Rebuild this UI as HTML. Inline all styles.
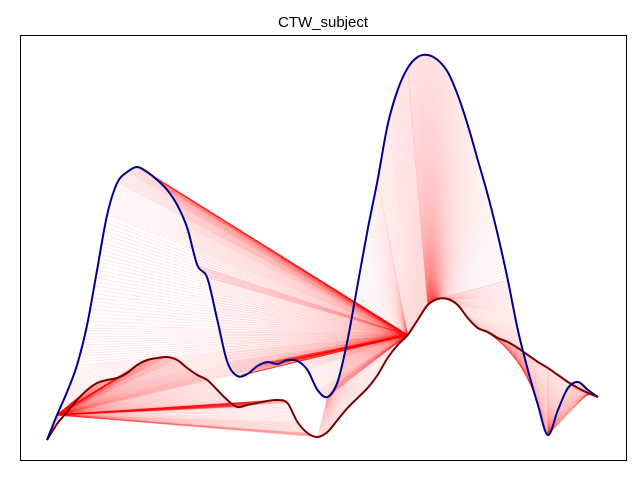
<!DOCTYPE html>
<html><head><meta charset="utf-8"><style>
body{margin:0;background:#fff;}
svg{display:block;font-family:"Liberation Sans",sans-serif;}
</style></head><body>
<svg id="chart" width="640" height="480">
<text x="323" y="27" text-anchor="middle" font-size="15">CTW_subject</text>
<g id="lines"></g>
<g id="curves"></g>
<rect x="20.5" y="35.5" width="606" height="425" fill="none" stroke="#000" stroke-width="1"/>
</svg>
<script>
// template series (blue), values in data units
const blueVals=[0,0.25,0.48,0.75,1.15,1.7,2.25,2.57,2.68,2.73,2.68,2.6,2.5,2.35,2.12,1.75,1.62,1.2,0.78,0.64,0.66,0.74,0.78,0.76,0.8,0.79,0.7,0.5,0.43,0.58,1.0,1.55,2.1,2.6,3.15,3.5,3.72,3.83,3.85,3.8,3.68,3.45,3.15,2.8,2.45,2.05,1.6,1.1,0.7,0.35,0.05,0.3,0.52,0.58,0.5,0.43];
// subject series (dark red)
const redVals=[0,0.16,0.28,0.4,0.5,0.57,0.6,0.62,0.67,0.75,0.8,0.82,0.83,0.8,0.72,0.65,0.6,0.5,0.4,0.33,0.35,0.37,0.39,0.4,0.37,0.18,0.07,0.03,0.08,0.2,0.32,0.42,0.52,0.65,0.82,0.95,1.05,1.2,1.35,1.41,1.41,1.35,1.22,1.12,1.08,1.02,0.98,0.92,0.85,0.78,0.72,0.65,0.58,0.52,0.47,0.43];
// warping path segments: [blueStart, blueEnd, redStart, redEnd]
const pathSegs=[[0,1,0,1],[1,1,1,27],[1,30,36,36],[28,30,27,36],[30,33,36,36],[33,36,36,38],[36,46,38,39],[46,50,39,50],[50,50,50,54],[50,55,54,55]];
const sx=i=>47+i*(551/55);
const sy=v=>440-v*100;
function at(arr,t){const i=Math.min(Math.floor(t),arr.length-2);const f=t-i;return arr[i]*(1-f)+arr[i+1]*f;}
const NS="http://www.w3.org/2000/svg";
const lg=document.getElementById('lines');
pathSegs.forEach(s=>{
  const n=Math.max(Math.abs(s[1]-s[0]),Math.abs(s[3]-s[2]))*14||1;
  for(let k=0;k<=n;k++){
    const tb=s[0]+(s[1]-s[0])*k/n, tr=s[2]+(s[3]-s[2])*k/n;
    const l=document.createElementNS(NS,'line');
    l.setAttribute('x1',sx(tb));l.setAttribute('y1',sy(at(blueVals,tb)));
    l.setAttribute('x2',sx(tr));l.setAttribute('y2',sy(at(redVals,tr)));
    l.setAttribute('stroke','#ff0000');l.setAttribute('stroke-opacity','0.09');l.setAttribute('stroke-width','1');
    
    
    lg.appendChild(l);
  }
});
const cg=document.getElementById('curves');
function curve(arr,color,name){
  const pts=arr.map((v,i)=>[sx(i),sy(v)]);
  let d='M'+pts[0][0]+','+pts[0][1];
  for(let i=0;i<pts.length-1;i++){
    const p0=pts[Math.max(i-1,0)],p1=pts[i],p2=pts[i+1],p3=pts[Math.min(i+2,pts.length-1)];
    d+=' C'+(p1[0]+(p2[0]-p0[0])/6)+','+(p1[1]+(p2[1]-p0[1])/6)+' '+(p2[0]-(p3[0]-p1[0])/6)+','+(p2[1]-(p3[1]-p1[1])/6)+' '+p2[0]+','+p2[1];
  }
  const p=document.createElementNS(NS,'path');
  p.setAttribute('d',d);
  p.setAttribute('fill','none');p.setAttribute('stroke',color);p.setAttribute('stroke-width','2');p.setAttribute('stroke-linejoin','round');
  
  
  cg.appendChild(p);
}
curve(redVals,'#7a0000','subject-curve');
curve(blueVals,'#00008b','template-curve');
</script>
</body></html>
